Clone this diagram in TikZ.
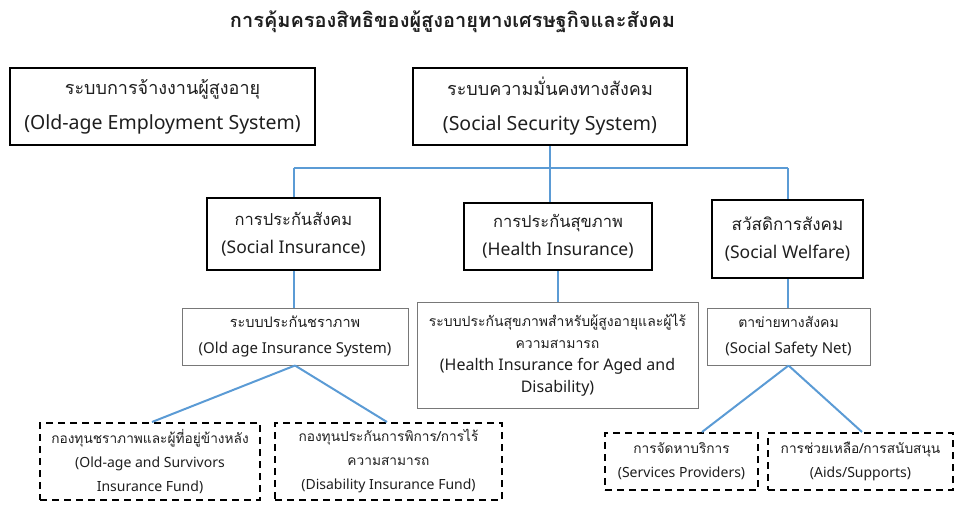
\documentclass[tikz,border=0pt]{standalone}
\usepackage{fontspec}
\setmainfont{Noto Sans}
\newfontfamily\thaifont[Script=Thai]{Loma}
\newcommand\thtxt[2]{{\fontsize{#1}{#1}\selectfont\thaifont #2}}
\definecolor{linkblue}{RGB}{91,155,213}
\definecolor{thinedge}{RGB}{120,120,120}
\definecolor{txt}{RGB}{30,30,30}
\begin{document}
\begin{tikzpicture}[x=1pt,y=-1pt,
  topbox/.style={draw=black,line width=2.6pt,minimum width=#1,minimum height=77pt,align=center,text=txt,inner sep=0pt,font=\fontsize{19.5}{35}\selectfont},
  midbox/.style={draw=black,line width=2.2pt,minimum width=#1,align=center,text=txt,inner sep=0pt,font=\fontsize{17.5}{28}\selectfont},
  lowbox/.style={draw=thinedge,line width=1pt,minimum width=#1,align=center,text=txt,inner sep=0pt,font=\fontsize{15}{26}\selectfont},
  dashbox/.style={draw=black,line width=2pt,dash pattern=on 7pt off 5pt,minimum width=#1,align=center,text=txt,inner sep=0pt,font=\fontsize{14}{24}\selectfont},
  link/.style={draw=linkblue,line width=2pt}]
\useasboundingbox (0,0) rectangle (955,504);
\node[font=\fontsize{20}{22}\selectfont\thaifont\bfseries,text=txt] (title) at (452.5,22) {การคุ้มครองสิทธิของผู้สูงอายุทางเศรษฐกิจและสังคม};
% top
\node[topbox=305pt] (A) at (162.5,106.5) {\thtxt{18}{ระบบการจ้างงานผู้สูงอายุ}\\(Old-age Employment System)};
\node[topbox=274pt] (B) at (550,106.5) {\thtxt{18}{ระบบความมั่นคงทางสังคม}\\(Social Security System)};
% middle
\node[midbox=173pt,minimum height=72pt] (C) at (293.5,234) {\thtxt{16.5}{การประกันสังคม}\\(Social Insurance)};
\node[midbox=188pt,minimum height=67pt] (D) at (558,236.5) {\thtxt{16.5}{การประกันสุขภาพ}\\(Health Insurance)};
\node[midbox=151pt,minimum height=78pt] (E) at (787.5,239) {\thtxt{17}{สวัสดิการสังคม}\\(Social Welfare)};
% lower
\node[lowbox=226pt,minimum height=57pt] (F) at (295,336.5) {\thtxt{14.5}{ระบบประกันชราภาพ}\\(Old age Insurance System)};
\node[lowbox=281pt,minimum height=106pt,font=\fontsize{16}{22}\selectfont] (G) at (557.5,355) {\thtxt{14}{ระบบประกันสุขภาพสำหรับผู้สูงอายุและผู้ไร้}\\\thtxt{14}{ความสามารถ}\\(Health Insurance for Aged and\\Disability)};
\node[lowbox=163pt,minimum height=57pt] (H) at (788.5,336.5) {\thtxt{14}{ตาข่ายทางสังคม}\\(Social Safety Net)};
% dashed
\node[dashbox=220pt,minimum height=77pt] (I) at (150,461.5) {\thtxt{13.7}{กองทุนชราภาพและผู้ที่อยู่ข้างหลัง}\\(Old-age and Survivors\\Insurance Fund)};
\node[dashbox=227pt,minimum height=77pt] (J) at (388.5,461.5) {\thtxt{13.7}{กองทุนประกันการพิการ/การไร้}\\\thtxt{13.7}{ความสามารถ}\\(Disability Insurance Fund)};
\node[dashbox=153pt,minimum height=57pt] (K) at (681.5,461.5) {\thtxt{13.7}{การจัดหาบริการ}\\(Services Providers)};
\node[dashbox=185pt,minimum height=57pt] (L) at (860.5,461.5) {\thtxt{13.7}{การช่วยเหลือ/การสนับสนุน}\\(Aids/Supports)};
% connectors
\coordinate (j) at (550,168);
\path[link] (B.south) -- (B.south |- D.north);
\path[link] (C.north |- j) -- (E.north |- j);
\path[link] (C.north |- j) -- (C.north);
\path[link] (E.north |- j) -- (E.north);
\path[link] (C.south) -- (C.south |- F.north);
\path[link] (D.south) -- (D.south |- G.north);
\path[link] (E.south) -- (E.south |- H.north);
\path[link] (F.south) -- ([xshift=2pt]I.north);
\path[link] (F.south) -- ([xshift=-1.5pt]J.north);
\path[link] (H.south) -- ([xshift=20.5pt]K.north);
\path[link] (H.south) -- ([xshift=1.5pt]L.north);
\end{tikzpicture}
\end{document}
